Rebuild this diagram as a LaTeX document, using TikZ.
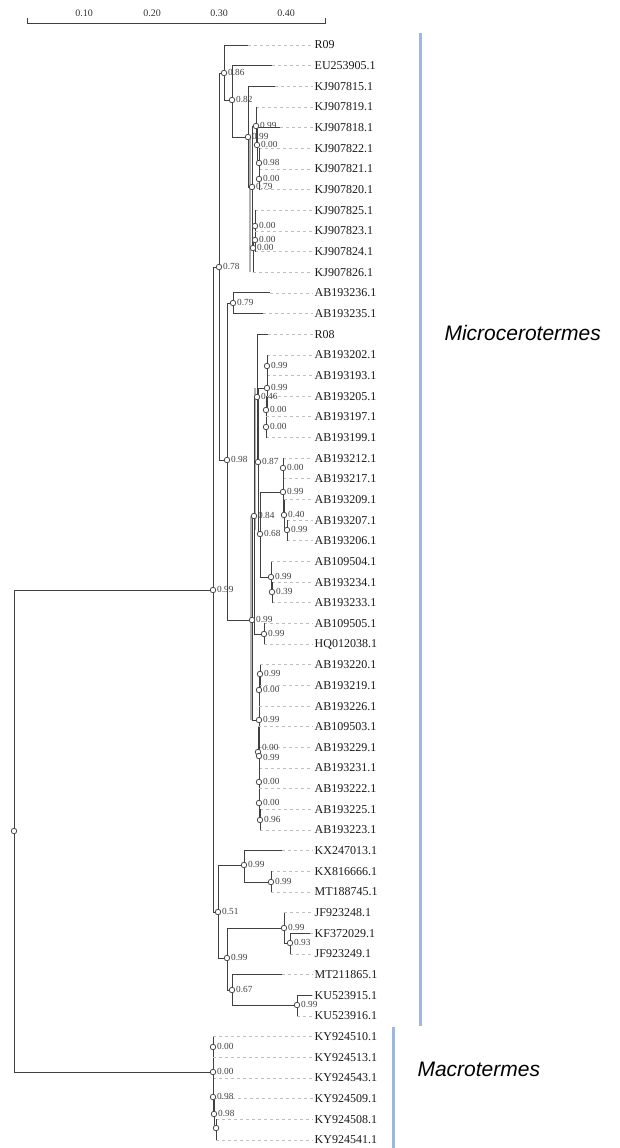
\documentclass[tikz,border=0pt]{standalone}
\usepackage{fontspec}
\setmainfont{Liberation Serif}
\newfontfamily\sansfam{Liberation Sans}
\definecolor{barblue}{HTML}{9DB8DC}
\pgfdeclarelayer{fg}
\pgfsetlayers{main,fg}
\tikzset{
  br/.style={draw=black!75, line width=0.95pt},
  dsh/.style={draw=black!25, line width=0.8pt, dash pattern=on 3pt off 3pt},
  dot/.style={circle, draw=black!70, fill=white, line width=0.8pt, minimum size=5.5pt, inner sep=0pt},
  blab/.style={anchor=west, font=\fontsize{9.3}{10}\selectfont, text=black!75, inner sep=0.8pt, yshift=1pt},
  leaflab/.style={anchor=west, font=\fontsize{12}{13}\selectfont, text=black!90, inner sep=1.5pt},
  gr/.style={draw=black!30, line width=1.6pt},
  cladebar/.style={draw=barblue, line width=3pt},
  clade/.style={font=\sansfam\itshape\fontsize{21}{23}\selectfont},
  scl/.style={font=\fontsize{10}{11}\selectfont, text=black!80},
}
\newcommand{\inode}[5][]{%
  \coordinate (#2) at (#3,#4);
  \begin{pgfonlayer}{fg}
    \node[dot] (#2c) at (#2) {};
    \node[blab,#1] (#2l) at (#2c.east) {#5};
  \end{pgfonlayer}}
\newcommand{\myleaf}[4]{%
  \coordinate (e#1) at (#3,{45+20.66*#1});
  \node[leaflab] (l#1) at (313,{45+20.66*#1}) {#4};
}
\begin{document}
\begin{tikzpicture}[x=1pt,y=-1pt]
\useasboundingbox (0,0) rectangle (619,1148);
% scale bar
\coordinate (sb1) at (27,23);
\coordinate (sb2) at (325,23);
\draw[draw=black!75, line width=0.9pt] ([yshift=5pt]sb1) -- (sb1) -- (sb2) -- ([yshift=5pt]sb2);
\node[scl] (s1) at (84,13) {0.10};
\node[scl] (s2) at (152,13) {0.20};
\node[scl] (s3) at (219,13) {0.30};
\node[scl] (s4) at (286,13) {0.40};
% internal nodes
\inode{root}{14}{831}{}
\inode{mic}{213}{590}{0.99}
\inode{mac}{213}{1072}{0.00}
\inode{n078}{219}{267}{0.78}
\inode{n051}{218}{912}{0.51}
\inode{n086}{224}{73}{0.86}
\inode{n098}{227}{460}{0.98}
\inode{n082}{232}{100}{0.82}
\inode{nK0}{248}{137}{0.99}
\inode{nK1}{252}{187}{0.79}
\inode{nK2}{256}{126}{0.99}
\inode{nK3}{257}{145}{0.00}
\inode{nK4}{259}{163}{0.98}
\inode{nK5}{259}{179}{0.00}
\inode{nK6}{253}{248}{0.00}
\inode{nK7}{255}{240}{0.00}
\inode{nK8}{255}{226}{0.00}
\inode{n079}{233}{303}{0.79}
\inode{nB}{252}{620}{0.99}
\inode{n084}{254}{516}{0.84}
\inode{n046}{257}{397}{0.46}
\inode{n087}{258}{462}{0.87}
\inode{nG}{267}{388}{0.99}
\inode{n099c}{267}{366}{0.99}
\inode{n000b}{266}{410}{0.00}
\inode{n000c}{266}{427}{0.00}
\inode{n068}{260}{534}{0.68}
\inode{n099a}{283}{492}{0.99}
\inode{n000a}{283}{468}{0.00}
\inode{n040}{284}{515}{0.40}
\inode{n099b}{287}{530}{0.99}
\inode{n099k}{271}{577}{0.99}
\inode{n039}{272}{592}{0.39}
\inode{nHQ}{264}{634}{0.99}
\inode{nC}{259}{720}{0.99}
\inode{n099d}{260}{674}{0.99}
\inode{n000d}{259}{690}{0.00}
\inode[yshift=4pt]{nX}{258}{752}{0.00}
\inode[yshift=-2pt]{n099e}{259}{756}{0.99}
\inode{n000f}{259}{782}{0.00}
\inode{n000g}{259}{803}{0.00}
\inode{n096}{260}{820}{0.96}
\inode{n099f}{244}{865}{0.99}
\inode{n099h}{271}{882}{0.99}
\inode{n099g}{227}{958}{0.99}
\inode{n099i}{284}{928}{0.99}
\inode{n093}{290}{943}{0.93}
\inode{n067}{232}{990}{0.67}
\inode{n099j}{297}{1005}{0.99}
\inode{nm1}{213}{1047}{0.00}
\inode{nm2}{213}{1097}{0.98}
\inode{nm3}{214}{1114}{0.98}
\inode{nm4}{216}{1128}{}
% grey shading lines
\draw[gr] (250,137) -- (250,272);
\draw[gr] (255,388) -- (255,530);
\draw[gr] (251,516) -- (251,720);
% internal branches
\foreach \p/\c in {root/mic, root/mac, mic/n078, mic/n051, n078/n086, n078/n098,
  n086/n082, n082/nK0, nK0/nK1, nK1/nK2, nK1/nK6, nK2/nK3, nK3/nK4, nK4/nK5,
  nK6/nK7, nK7/nK8, n098/n079, n098/nB, nB/n084, nB/nC, n084/n046, n084/nHQ,
  n046/n087, n087/nG, n087/n068, nG/n099c, nG/n000b, n000b/n000c,
  n068/n099a, n068/n099k, n099a/n000a, n099a/n040, n040/n099b, n099k/n039,
  nC/n099d, nC/nX, n099d/n000d, nX/n099e, n099e/n000f, n000f/n000g, n000g/n096,
  n051/n099f, n051/n099g, n099f/n099h, n099g/n099i, n099g/n067, n099i/n093,
  n067/n099j, mac/nm1, mac/nm2, nm2/nm3, nm3/nm4}
  \draw[br] (\p) |- (\c);
% leaves
\foreach \r/\p/\x/\t in {0/n086/248/R09, 1/n082/272/EU253905.1, 2/nK0/275/KJ907815.1,
  3/nK2/256/KJ907819.1, 4/nK3/280/KJ907818.1, 5/nK4/259/KJ907822.1,
  6/nK5/259/KJ907821.1, 7/nK5/259/KJ907820.1, 8/nK8/255/KJ907825.1,
  9/nK8/255/KJ907823.1, 10/nK7/255/KJ907824.1, 11/nK6/253/KJ907826.1,
  12/n079/270/AB193236.1, 13/n079/263/AB193235.1, 14/n046/268/R08,
  15/n099c/267/AB193202.1, 16/n099c/267/AB193193.1, 17/n000b/266/AB193205.1,
  18/n000c/266/AB193197.1, 19/n000c/266/AB193199.1, 20/n000a/283/AB193212.1,
  21/n000a/283/AB193217.1, 22/n040/284/AB193209.1, 23/n099b/287/AB193207.1,
  24/n099b/287/AB193206.1, 25/n099k/271/AB109504.1, 26/n039/272/AB193234.1,
  27/n039/272/AB193233.1, 28/nHQ/264/AB109505.1, 29/nHQ/264/HQ012038.1,
  30/n099d/260/AB193220.1, 31/n000d/259/AB193219.1, 32/n000d/259/AB193226.1,
  33/nX/258/AB109503.1, 34/n099e/259/AB193229.1, 35/n000f/259/AB193231.1,
  36/n000g/259/AB193222.1, 37/n096/260/AB193225.1, 38/n096/260/AB193223.1,
  39/n099f/282/KX247013.1, 40/n099h/271/KX816666.1, 41/n099h/271/MT188745.1,
  42/n099i/284/JF923248.1, 43/n093/310/KF372029.1, 44/n093/290/JF923249.1,
  45/n067/282/MT211865.1, 46/n099j/312/KU523915.1, 47/n099j/297/KU523916.1,
  48/nm1/213/KY924510.1, 49/nm1/213/KY924513.1, 50/nm2/213/KY924543.1,
  51/nm3/214/KY924509.1, 52/nm4/216/KY924508.1, 53/nm4/216/KY924541.1}
{
  \myleaf{\r}{\p}{\x}{\t}
  \draw[dsh] (e\r) -- (l\r.west);
  \draw[br] (\p) |- (e\r);
}
% clade bars and names
\coordinate (mb1) at (420,33);
\coordinate (mb2) at (420,1026);
\coordinate (ab1) at (393,1027);
\coordinate (ab2) at (393,1148);
\draw[cladebar] (mb1) -- (mb2);
\draw[cladebar] (ab1) -- (ab2);
\node[clade, anchor=west] (micname) at (441,333) {Microcerotermes};
\node[clade, anchor=west] (macname) at (414,1069) {Macrotermes};
\end{tikzpicture}
\end{document}
